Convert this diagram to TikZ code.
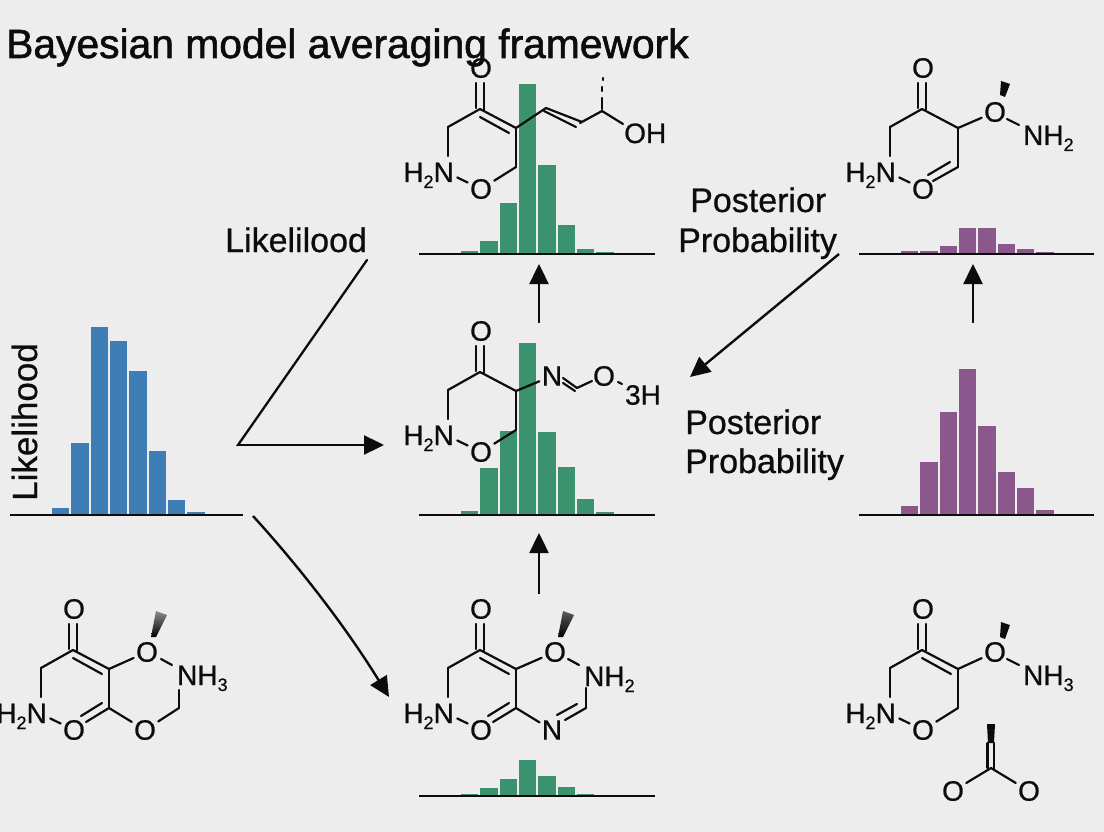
\documentclass[tikz,border=0pt]{standalone}
\usepackage{fontspec}
\setmainfont[FakeBold=0.7]{Liberation Sans}
\newfontfamily\titlefont[FakeBold=1.4]{Liberation Sans}
\usetikzlibrary{arrows.meta}
\definecolor{bgc}{RGB}{237,237,237}
\definecolor{ink}{RGB}{12,12,12}
\definecolor{greenbar}{RGB}{58,146,110}
\definecolor{bluebar}{RGB}{62,125,181}
\definecolor{purplebar}{RGB}{138,88,140}
\newcommand\fsz[1]{\fontsize{#1}{#1}\selectfont}
\newcommand\subn[1]{\raisebox{-6pt}{\fsz{18}#1}}
\newcommand\hist[4]{% colour, first bar x, base y, tops
  \foreach \t [count=\i from 0] in {#4}{
    \fill[#1] ({#2+\i*19.3},#3) rectangle ({#2+\i*19.3+17.4},\t);
  }}
\newcommand\axisline[3]{\draw[axisrule] (#1,#3) -- (#2,#3);}
\newcommand\ringbase[1]{%
  \coordinate (#1c4) at (0,0);
  \coordinate (#1c3) at (-32,18);
  \coordinate (#1nt) at (-32,47);
  \coordinate (#1c5) at (36,19);
  \coordinate (#1c6) at (36,58);
  \coordinate (#1nc) at (-34,63);
  \node[atom] (#1o4) at (1,-41) {O};
  \node[atom] (#1o1) at (1,80) {O};
  \node[atom,anchor=base east] (#1n) at (-26,73) {H\subn{2}N};
  \draw[bond] (-4,-26) -- (-4,-1);
  \draw[bond] (4,-26) -- (4,1);
  \draw[bond] (#1c3) -- (#1c4);
  \draw[bond] (#1c3) -- (#1nt);
  \draw[bond,shorten <=12.5pt,shorten >=2.5pt] (#1nc) -- (#1o1);
  \draw[bond] (#1c4) -- (#1c5);
  \draw[bond] (#1c5) -- (#1c6);
}
\newcommand\innerdouble{\draw[bond] (0,8) -- (29,24);}
\tikzset{
  bond/.style={draw=ink,line width=2.2pt,line cap=round,line join=round},
  toatom/.style={bond,shorten >=2.5pt},
  atom/.style={inner sep=0pt,text=ink,font=\fsz{28}},
  axisrule/.style={draw=ink,line width=2pt},
  flow/.style={draw=ink,line width=2.4pt,-{Triangle[length=20pt,width=19pt]}},
  plainline/.style={draw=ink,line width=2.3pt,line cap=round},
  caption/.style={inner sep=0pt,text=ink,font=\fsz{34},anchor=base west},
}
\begin{document}
\begin{tikzpicture}[x=1pt,y=-1pt]
\useasboundingbox (0,0) rectangle (1104,832);
\fill[bgc] (0,0) rectangle (1104,832);
% histograms
\hist{bluebar}{52}{515}{508,443,327,341,371,451,500,512}
\axisline{10}{243}{515}
\hist{greenbar}{461}{254}{251,241,203,84,165,225,249,252}
\axisline{419}{655}{254}
\hist{greenbar}{461}{515}{511,468,431,343,432,467,499,512}
\axisline{419}{655}{515}
\hist{greenbar}{461}{796}{794,788,779,760,776,787,794,795}
\axisline{419}{655}{796}
\hist{purplebar}{901}{254}{251,251,246,228,228,244,249,252}
\axisline{859}{1094}{254}
\hist{purplebar}{901}{515}{506,462,412,369,426,472,488,510}
\axisline{859}{1094}{515}
% top middle molecule
\begin{scope}[shift={(480,109)}]
  \ringbase{a}
  \innerdouble
  \draw[toatom] (ac6) -- (ao1);
  \coordinate (av1) at (66,-1);
  \coordinate (av3) at (122,2);
  \draw[bond] (ac5) -- (av1);
  \draw[bond] (av1) -- (102,13);
  \draw[bond] (64,2) -- (96,18);
  \draw[bond] (100,14) -- (av3);
  \draw[bond] (av3) -- (143,15);
  \draw[bond] (122,0) -- (122,-11);
  \draw[bond] (122,-18) -- (122,-22);
  \draw[bond] (123,-29) -- (123,-31);
  \node[atom,anchor=base west] (aohn) at (144,34) {OH};
\end{scope}
% centre molecule
\begin{scope}[shift={(480,372)}]
  \ringbase{b}
  \draw[toatom] (bc6) -- (bo1);
  \node[atom] (bn2) at (72,4) {N};
  \node[atom] (bo2) at (124,4) {O};
  \node[atom] (b3h) at (163,23) {3H};
  \coordinate (bc7) at (97,16);
  \draw[toatom] (bc5) -- (bn2);
  \draw[bond] (83,6) -- (bc7);
  \draw[bond] (83,11) -- (95,19);
  \draw[bond] (bc7) -- (112,9);
  \draw[bond] (138,10) -- (142,12);
\end{scope}
% bottom middle molecule
\begin{scope}[shift={(480,650)}]
  \ringbase{c}
  \innerdouble
  \node[atom] (co5) at (75,2) {O};
  \draw[toatom] (cc5) -- (co5);
  \path[top color=black!65,bottom color=black] (78,-13) -- (83,-13) -- (94,-35) -- (83,-39) -- cycle;
  \node[atom,anchor=base west] (cnh) at (104,36) {NH\subn{2}};
  \draw[bond] (88,9) -- (99,15);
  \coordinate (cc7) at (106,58);
  \draw[bond] (106,38) -- (cc7);
  \node[atom] (cn3) at (72,80) {N};
  \draw[bond] (cc7) -- (85,70);
  \draw[bond] (77,65) -- (97,54);
  \draw[toatom] (cc6) -- (cn3);
  \draw[bond] (cc6) -- (13,72);
  \draw[bond] (29,53) -- (8,66);
\end{scope}
% left molecule
\begin{scope}[shift={(73,650)}]
  \ringbase{d}
  \innerdouble
  \node[atom] (do5) at (74,2) {O};
  \draw[toatom] (dc5) -- (do5);
  \path[top color=black!45,bottom color=black] (78,-13) -- (83,-13) -- (94,-35) -- (83,-39) -- cycle;
  \node[atom,anchor=base west] (dnh) at (104,35) {NH\subn{3}};
  \draw[bond] (88,9) -- (99,15);
  \coordinate (dc7) at (106,58);
  \draw[bond] (106,40) -- (dc7);
  \node[atom] (do3) at (72,80) {O};
  \draw[toatom] (dc6) -- (do3);
  \draw[toatom] (dc7) -- (do3);
  \draw[bond] (dc6) -- (13,72);
  \draw[bond] (29,53) -- (8,66);
\end{scope}
% top right molecule
\begin{scope}[shift={(922,109)}]
  \ringbase{e}
  \node[atom] (eo5) at (73,3) {O};
  \draw[toatom] (ec5) -- (eo5);
  \fill[ink] (78,-14) -- (83,-12) -- (88,-25) -- (79,-28) -- cycle;
  \node[atom,anchor=base west] (enh) at (101,36) {NH\subn{2}};
  \draw[bond] (85,10) -- (97,16);
  \draw[bond] (ec6) -- (11,72);
  \draw[bond] (28,53) -- (6,66);
\end{scope}
% bottom right molecule
\begin{scope}[shift={(922,650)}]
  \ringbase{f}
  \innerdouble
  \draw[toatom] (fc6) -- (fo1);
  \node[atom] (fo5) at (73,2) {O};
  \draw[toatom] (fc5) -- (fo5);
  \fill[ink] (78,-13) -- (83,-11) -- (88,-25) -- (79,-28) -- cycle;
  \node[atom,anchor=base west] (fnh) at (101,35) {NH\subn{3}};
  \draw[bond] (85,9) -- (97,15);
\end{scope}
% carboxylate
\coordinate (gc) at (991,768);
\node[atom] (go1) at (953,791) {O};
\node[atom] (go2) at (1029,791) {O};
\fill[ink] (987,724) -- (995,724) -- (994,743) -- (988,743) -- cycle;
\draw[bond] (987.5,743) -- (987.5,768);
\draw[bond] (994,743) -- (994,769);
\draw[toatom] (gc) -- (go1);
\draw[toatom] (gc) -- (go2);
% captions
\node[caption,font=\titlefont\fsz{40.8}] (title) at (6,58) {Bayesian model averaging framework};
\node[caption] (like1) at (225,252) {Likelilood};
\node[caption,font=\fsz{35},rotate=90] (like2) at (37,501) {Likelihood};
\node[caption] (post1a) at (690,212) {Posterior};
\node[caption] (post1b) at (678,252) {Probability};
\node[caption] (post2a) at (685,434) {Posterior};
\node[caption] (post2b) at (685,473) {Probability};
% connectors
\coordinate (j1) at (238,445);
\coordinate (j2) at (367,260);
\coordinate (j3) at (384,445);
\coordinate (u1s) at (539,323);
\coordinate (u1e) at (539,264);
\coordinate (u2s) at (539,594);
\coordinate (u2e) at (539,533);
\coordinate (u3s) at (973,323);
\coordinate (u3e) at (973,264);
\coordinate (p1s) at (839,254);
\coordinate (p1e) at (690,377);
\coordinate (l1s) at (253,516);
\coordinate (l1e) at (389,697);
\draw[plainline] (j2) -- (j1) -- (238.5,445);
\draw[flow] (j1) -- (j3);
\draw[flow] (u1s) -- (u1e);
\draw[flow] (u2s) -- (u2e);
\draw[flow] (u3s) -- (u3e);
\draw[flow] (p1s) -- (p1e);
\draw[flow] (l1s) .. controls (304,572) and (349,632) .. (l1e);
\end{tikzpicture}
\end{document}
